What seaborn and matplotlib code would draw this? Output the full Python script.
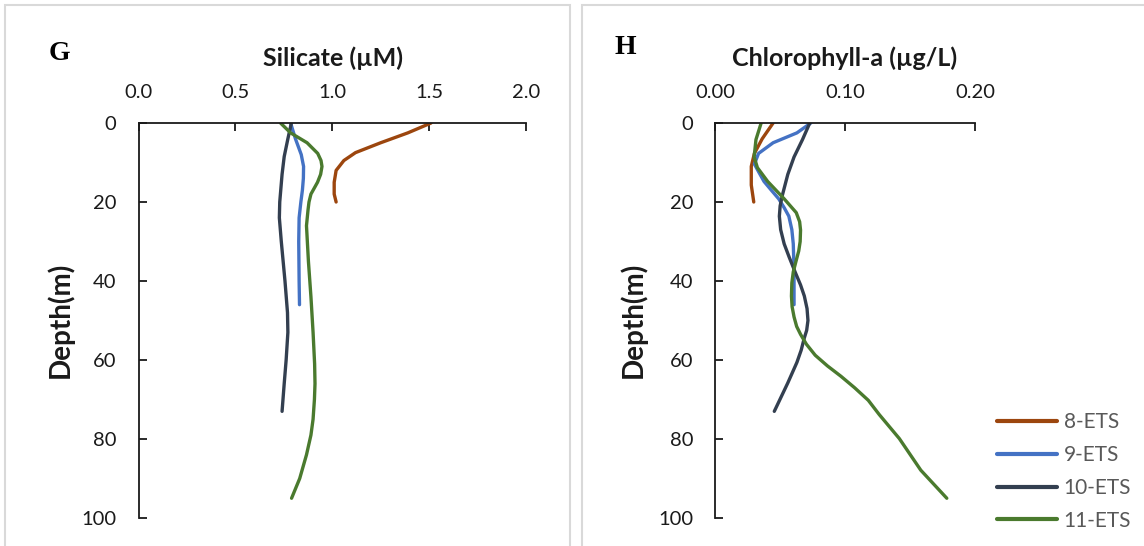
import numpy as np
import pandas as pd
import matplotlib
matplotlib.use("Agg")
import matplotlib.pyplot as plt
from matplotlib.patches import Rectangle
import seaborn as sns

# ---------------- data ----------------
stations = ["8-ETS", "9-ETS", "10-ETS", "11-ETS"]

# Silicate (uM) profiles
si_depth_8 = [0, 2.5, 5, 7.5, 9.5, 12, 15, 18, 20]
si_val_8 = [1.51, 1.39, 1.25, 1.12, 1.06, 1.02, 1.01, 1.01, 1.02]
si_depth_9 = [0, 4, 8, 11, 14, 17, 20, 24, 30, 40, 46]
si_val_9 = [0.785, 0.81, 0.84, 0.852, 0.851, 0.846, 0.838, 0.829, 0.827, 0.829, 0.831]
si_depth_10 = [0, 4, 8.5, 13, 20, 24, 30, 40, 48, 53, 60, 66, 73]
si_val_10 = [0.789, 0.771, 0.752, 0.741, 0.729, 0.727, 0.737, 0.756, 0.769, 0.771, 0.762, 0.752, 0.741]
si_depth_11 = [0, 2.5, 5, 7.7, 9.5, 11, 13, 15, 18, 20, 22, 26, 35, 44, 53, 61, 66, 70, 75, 79, 84,
               90, 95]
si_val_11 = [0.733, 0.785, 0.87, 0.925, 0.942, 0.947, 0.94, 0.924, 0.89, 0.88, 0.875, 0.867, 0.877,
             0.89, 0.901, 0.909, 0.911, 0.908, 0.901, 0.89, 0.867, 0.832, 0.79]

# Chlorophyll-a (ug/L) profiles
chl_depth_8 = [0, 4, 7.7, 11, 15.7, 20]
chl_val_8 = [0.0444, 0.036, 0.030, 0.0276, 0.0276, 0.0295]
chl_depth_9 = [0, 2.5, 5, 7.7, 10.4, 12.5, 14.8, 17, 19.2, 21.5, 23.6, 27, 30.6, 35, 39.4, 46]
chl_val_9 = [0.0734, 0.0627, 0.0444, 0.0332, 0.030, 0.0335, 0.0374, 0.043, 0.0487, 0.053, 0.0565,
             0.0588, 0.0599, 0.0603, 0.0605, 0.0605]
chl_depth_10 = [0, 4.2, 8.6, 13, 18.3, 21, 23.6, 27, 30.6, 34, 37.7, 41, 43.8, 47, 50, 52.5, 54.4,
                57.5, 60.6, 65.8, 73]
chl_val_10 = [0.0726, 0.067, 0.0605, 0.0557, 0.0515, 0.0498, 0.0492, 0.0502, 0.0529, 0.0568, 0.0613,
              0.0655, 0.0684, 0.0705, 0.0712, 0.0702, 0.0684, 0.066, 0.0627, 0.0557, 0.0453]
chl_depth_11 = [0, 4.2, 8.6, 11.3, 14.8, 19.2, 22.7, 25, 27.1, 30, 32.4, 35, 37.7, 40.5, 43.8, 46.5,
                49.1, 51.5, 53.5, 56, 58.8, 61.5, 64.1, 67, 70.2, 73.8, 79.9, 87.9, 95]
chl_val_11 = [0.0352, 0.0312, 0.0298, 0.0323, 0.0402, 0.0529, 0.0622, 0.0648, 0.0655, 0.0652,
              0.0641, 0.062, 0.0599, 0.0588, 0.0585, 0.059, 0.0605, 0.0625, 0.0655, 0.070, 0.0768,
              0.0862, 0.0965, 0.107, 0.1176, 0.126, 0.1415, 0.158, 0.178]

si_ticks = [0.0, 0.5, 1.0, 1.5, 2.0]
si_ticklabels = ["0.0", "0.5", "1.0", "1.5", "2.0"]
chl_ticks = [0.0, 0.10, 0.20]
chl_ticklabels = ["0.00", "0.10", "0.20"]
depth_ticks = [0, 20, 40, 60, 80, 100]
depth_ticklabels = ["0", "20", "40", "60", "80", "100"]


def long_frame(depths, values):
    rows = []
    for st, d, v in zip(stations, depths, values):
        for i, (dd, vv) in enumerate(zip(d, v)):
            rows.append({"station": st, "depth": dd, "value": vv, "order": i})
    return pd.DataFrame(rows)


si_df = long_frame([si_depth_8, si_depth_9, si_depth_10, si_depth_11],
                   [si_val_8, si_val_9, si_val_10, si_val_11])
chl_df = long_frame([chl_depth_8, chl_depth_9, chl_depth_10, chl_depth_11],
                    [chl_val_8, chl_val_9, chl_val_10, chl_val_11])

# ---------------- style ----------------
sns.set_theme(style="white")
plt.rcParams["font.family"] = ["Lato", "DejaVu Sans"]

palette = {"8-ETS": "#9C460E", "9-ETS": "#4472C4", "10-ETS": "#333F50", "11-ETS": "#4A7A2E"}

W, H = 1144, 546
fig = plt.figure(figsize=(W / 100, H / 100), dpi=100)

# panel borders
fig.patches.append(Rectangle((5 / W, -0.01), (570 - 5) / W, 1 - 5 / H + 0.01,
                             transform=fig.transFigure, fill=False,
                             edgecolor="#D9D9D9", linewidth=1.5))
fig.patches.append(Rectangle((582 / W, -0.01), 0.5, 1 - 5 / H + 0.01,
                             transform=fig.transFigure, fill=False,
                             edgecolor="#D9D9D9", linewidth=1.5))

ax1 = fig.add_axes([138.5 / W, 1 - 518 / H, (526 - 138.5) / W, (518 - 123) / H])
ax2 = fig.add_axes([715.4 / W, 1 - 518 / H, (975.4 - 715.4) / W, (518 - 123) / H])

for ax, df, xt, xtl, xmax in [(ax1, si_df, si_ticks, si_ticklabels, 2.0),
                              (ax2, chl_df, chl_ticks, chl_ticklabels, 0.20)]:
    sns.lineplot(data=df, x="value", y="depth", hue="station", hue_order=stations,
                 palette=palette, sort=False, estimator=None, units="station",
                 linewidth=2.4, ax=ax, legend=(ax is ax2))
    for line in ax.get_lines():
        line.set_solid_capstyle("round")
        line.set_solid_joinstyle("round")
    ax.set_xlim(0, xmax)
    ax.set_ylim(100, 0)
    ax.xaxis.tick_top()
    ax.set_xticks(xt)
    ax.set_xticklabels(xtl)
    ax.set_yticks(depth_ticks)
    ax.set_yticklabels(depth_ticklabels)
    ax.set_xlabel("")
    ax.set_ylabel("")
    for s in ["right", "bottom"]:
        ax.spines[s].set_visible(False)
    for s in ["left", "top"]:
        ax.spines[s].set_color("#1A1A1A")
        ax.spines[s].set_linewidth(1.3)
    ax.tick_params(axis="both", direction="in", length=6, width=1.3, color="#1A1A1A",
                   labelsize=14.5, labelcolor="#1A1A1A")
    ax.tick_params(axis="x", pad=16, top=True, bottom=False)
    ax.tick_params(axis="y", pad=16, left=True)
    ax.set_facecolor("none")

# legend
handles, labels = ax2.get_legend_handles_labels()
ax2.get_legend().remove()
for h in handles:
    h.set_linewidth(3)
leg = fig.legend(handles, labels, loc="upper left", bbox_to_anchor=(997 / W, 1 - 412 / H),
                 frameon=False, fontsize=15, handlelength=2.9, handletextpad=0.3,
                 labelspacing=0.62, borderpad=0, borderaxespad=0)
for t in leg.get_texts():
    t.set_color("#595959")

# titles, axis labels, panel letters
fig.text(333 / W, 1 - 58 / H, "Silicate (µM)", ha="center", va="center",
         fontsize=18, fontweight="bold", color="#1A1A1A")
fig.text(845 / W, 1 - 58 / H, "Chlorophyll-a (µg/L)", ha="center", va="center",
         fontsize=18, fontweight="bold", color="#1A1A1A")
fig.text(60 / W, 1 - 320 / H, "Depth(m)", rotation=90, ha="center", va="center",
         fontsize=20, fontweight="bold", color="#1A1A1A")
fig.text(633 / W, 1 - 320 / H, "Depth(m)", rotation=90, ha="center", va="center",
         fontsize=20, fontweight="bold", color="#1A1A1A")
fig.text(59 / W, 1 - 53 / H, "G", ha="center", va="center", fontsize=20,
         fontweight="bold", family=["Liberation Serif", "DejaVu Serif"], color="#000000")
fig.text(625 / W, 1 - 47 / H, "H", ha="center", va="center", fontsize=20,
         fontweight="bold", family=["Liberation Serif", "DejaVu Serif"], color="#000000")

fig.savefig("out.png", dpi=100)
